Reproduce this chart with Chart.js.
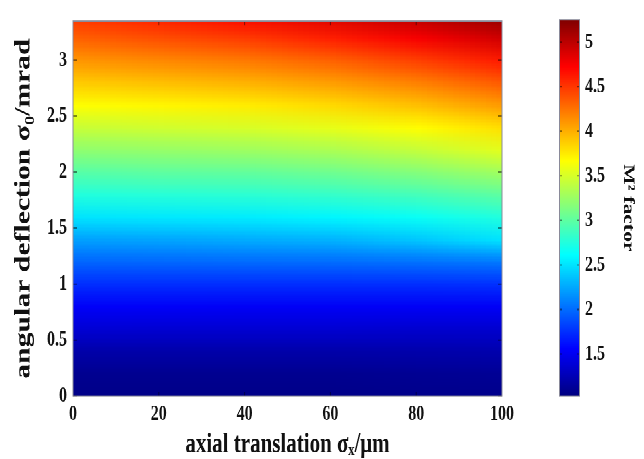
<!DOCTYPE html>
<html><head><meta charset="utf-8">
<script src="https://cdn.jsdelivr.net/npm/chart.js@4.4.1/dist/chart.umd.min.js"></script>
<style>
html,body{margin:0;padding:0;background:#fff;overflow:hidden;}
#wrap{position:absolute;left:0;top:0;width:644px;height:340px;transform:scaleY(1.35);transform-origin:0 0;}
#main{position:absolute;left:0;top:0;}
#cbar{position:absolute;left:559px;top:0;}
</style></head><body>
<div id="wrap"><canvas id="main" width="644" height="340"></canvas><canvas id="cbar" width="85" height="340"></canvas></div>
<script>
// ---- data ----
const sigmaX = [0, 20, 40, 60, 80, 100];                  // axial translation (µm)
const theta = [0, 0.2, 0.4, 0.6, 0.8, 1.0, 1.2, 1.4, 1.6, 1.8, 2.0, 2.2, 2.4, 2.6, 2.8, 3.0, 3.2, 3.4]; // angular deflection (mrad)
const m2_x0   = [1.07,1.10,1.20,1.38,1.53,1.74,1.97,2.22,2.50,2.75,2.97,3.20,3.43,3.66,3.88,4.10,4.32,4.52];
const m2_x20  = [1.07,1.10,1.20,1.37,1.53,1.74,1.98,2.24,2.52,2.77,3.00,3.23,3.47,3.70,3.93,4.16,4.40,4.62];
const m2_x40  = [1.07,1.10,1.20,1.37,1.52,1.74,1.99,2.27,2.54,2.79,3.02,3.26,3.50,3.74,3.98,4.22,4.48,4.74];
const m2_x60  = [1.07,1.10,1.20,1.37,1.52,1.74,2.00,2.30,2.58,2.83,3.07,3.32,3.57,3.82,4.07,4.32,4.60,4.88];
const m2_x80  = [1.08,1.11,1.21,1.36,1.52,1.74,2.02,2.38,2.65,2.90,3.16,3.42,3.67,3.93,4.19,4.46,4.75,5.03];
const m2_x100 = [1.08,1.12,1.22,1.36,1.52,1.75,2.05,2.50,2.75,3.00,3.28,3.55,3.80,4.08,4.35,4.62,4.92,5.20];
const xTicks = [0, 20, 40, 60, 80, 100];
const yTicks = [0, 0.5, 1, 1.5, 2, 2.5, 3];
const cbarTicks = [1.5, 2, 2.5, 3, 3.5, 4, 4.5, 5];
const yMax = 3.35;
const cbarMin = 1.03, cbarMax = 5.25;

const columns = [m2_x0, m2_x20, m2_x40, m2_x60, m2_x80, m2_x100];
const points = [];
sigmaX.forEach((sx, i) => theta.forEach((th, j) => points.push({x: sx, y: th, v: columns[i][j]})));

function jet(t) {
  t = Math.max(0, Math.min(1, t));
  const c = v => Math.round(255 * Math.max(0, Math.min(1, v)));
  return [c(1.5 - Math.abs(4 * t - 3)), c(1.5 - Math.abs(4 * t - 2)), c(1.5 - Math.abs(4 * t - 1))];
}

const FONT = "'Liberation Serif', 'Times New Roman', serif";
const TXT = '#111';
const plain = v => String(v);

const heatPlugin = {
  id: 'heat',
  beforeDatasetsDraw(chart) {
    const {ctx, chartArea: a, scales: {x, y}} = chart;
    const pts = chart.data.datasets[0].data;
    const cols = sigmaX.length, rows = theta.length;
    const off = document.createElement('canvas');
    off.width = cols; off.height = rows;
    const oc = off.getContext('2d');
    const img = oc.createImageData(cols, rows);
    pts.forEach(p => {
      const i = sigmaX.indexOf(p.x), j = rows - 1 - theta.indexOf(p.y);
      const [r, g, b] = jet((p.v - cbarMin) / (cbarMax - cbarMin));
      const k = (j * cols + i) * 4;
      img.data[k] = r; img.data[k + 1] = g; img.data[k + 2] = b; img.data[k + 3] = 255;
    });
    oc.putImageData(img, 0, 0);
    const dx = (sigmaX[1] - sigmaX[0]) / 2, dy = (theta[1] - theta[0]) / 2;
    const x0 = x.getPixelForValue(sigmaX[0] - dx), x1 = x.getPixelForValue(sigmaX[cols - 1] + dx);
    const yT = y.getPixelForValue(theta[rows - 1] + dy), yB = y.getPixelForValue(theta[0] - dy);
    ctx.save();
    ctx.beginPath(); ctx.rect(a.left, a.top, a.width, a.height); ctx.clip();
    ctx.imageSmoothingEnabled = true;
    ctx.drawImage(off, x0, yT, x1 - x0, yB - yT);
    ctx.restore();
  },
  afterDatasetsDraw(chart) {
    const {ctx, chartArea: a, scales: {x, y}} = chart;
    ctx.save();
    ctx.strokeStyle = 'rgba(0,0,0,0.45)'; ctx.lineWidth = 1;
    xTicks.forEach(v => { const px = x.getPixelForValue(v);
      ctx.beginPath(); ctx.moveTo(px, a.bottom); ctx.lineTo(px, a.bottom - 3); ctx.moveTo(px, a.top); ctx.lineTo(px, a.top + 3); ctx.stroke(); });
    yTicks.forEach(v => { const py = y.getPixelForValue(v);
      ctx.beginPath(); ctx.moveTo(a.left, py); ctx.lineTo(a.left + 4, py); ctx.moveTo(a.right, py); ctx.lineTo(a.right - 4, py); ctx.stroke(); });
    ctx.strokeStyle = '#8a8a9a';
    ctx.strokeRect(a.left, a.top, a.width, a.height);
    ctx.restore();
  }
};

new Chart(document.getElementById('main'), {
  type: 'scatter',
  data: {datasets: [{label: 'M² factor', data: points, pointRadius: 0, pointHoverRadius: 0}]},
  options: {
    responsive: false, animation: false, devicePixelRatio: 2,
    layout: {padding: {left: 0, top: 7.4, right: 142, bottom: 0}},
    plugins: {legend: {display: false}, tooltip: {enabled: false}},
    scales: {
      x: {
        type: 'linear', min: 0, max: 100,
        afterBuildTicks: s => { s.ticks = xTicks.map(v => ({value: v})); },
        afterFit: s => { s.height = 46.7; },
        ticks: {font: {family: FONT, size: 16, weight: 'bold'}, color: TXT, padding: 4, maxRotation: 0, callback: plain},
        grid: {display: false, drawTicks: false}, border: {display: false},
        title: {display: true, text: 'axial translation σₓ/μm', color: TXT,
          font: {family: FONT, size: 21, weight: 'bold', lineHeight: 1}, padding: {top: 0, bottom: 0}}
      },
      y: {
        type: 'linear', min: 0, max: yMax,
        afterBuildTicks: s => { s.ticks = yTicks.map(v => ({value: v})); },
        afterFit: s => { s.width = 73; },
        ticks: {font: {family: FONT, size: 16, weight: 'bold'}, color: TXT, padding: 6, callback: plain},
        grid: {display: false, drawTicks: false}, border: {display: false},
        title: {display: true, text: 'angular deflection σ₀/mrad', color: TXT,
          font: {family: FONT, size: 22, weight: 'bold', lineHeight: 1}, padding: {top: 13, bottom: 0}}
      }
    }
  },
  plugins: [heatPlugin]
});

const cbPlugin = {
  id: 'cb',
  beforeDatasetsDraw(chart) {
    const {ctx, chartArea: a, scales: {y}} = chart;
    const g = ctx.createLinearGradient(0, y.getPixelForValue(cbarMin), 0, y.getPixelForValue(cbarMax));
    for (let k = 0; k <= 8; k++) { const [r, gg, b] = jet(k / 8); g.addColorStop(k / 8, `rgb(${r},${gg},${b})`); }
    ctx.save();
    ctx.fillStyle = g;
    ctx.fillRect(a.left, a.top, a.width, a.height);
    ctx.strokeStyle = 'rgba(0,0,0,0.45)';
    cbarTicks.forEach(v => { const py = y.getPixelForValue(v);
      ctx.beginPath(); ctx.moveTo(a.left, py); ctx.lineTo(a.left + 3, py); ctx.moveTo(a.right, py); ctx.lineTo(a.right - 3, py); ctx.stroke(); });
    ctx.strokeStyle = '#8a8a9a';
    ctx.strokeRect(a.left + 0.5, a.top, a.width - 1, a.height);
    ctx.restore();
  }
};

new Chart(document.getElementById('cbar'), {
  type: 'scatter',
  data: {datasets: [{data: [], pointRadius: 0}]},
  options: {
    responsive: false, animation: false, devicePixelRatio: 2,
    layout: {padding: {left: 0, top: 7.4, right: 0, bottom: 46.7}},
    plugins: {legend: {display: false}, tooltip: {enabled: false}},
    scales: {
      x: {display: false, min: 0, max: 1},
      y: {
        position: 'right', min: cbarMin, max: cbarMax,
        afterBuildTicks: s => { s.ticks = cbarTicks.map(v => ({value: v})); },
        afterFit: s => { s.width = 64; },
        ticks: {font: {family: FONT, size: 16, weight: 'bold'}, color: TXT, padding: 5, callback: plain},
        grid: {display: false, drawTicks: false}, border: {display: false},
        title: {display: true, text: 'M² factor', color: TXT,
          font: {family: FONT, size: 16, weight: 'bold', lineHeight: 1}, padding: {top: 8, bottom: 0}}
      }
    }
  },
  plugins: [cbPlugin]
});
</script>
</body></html>
